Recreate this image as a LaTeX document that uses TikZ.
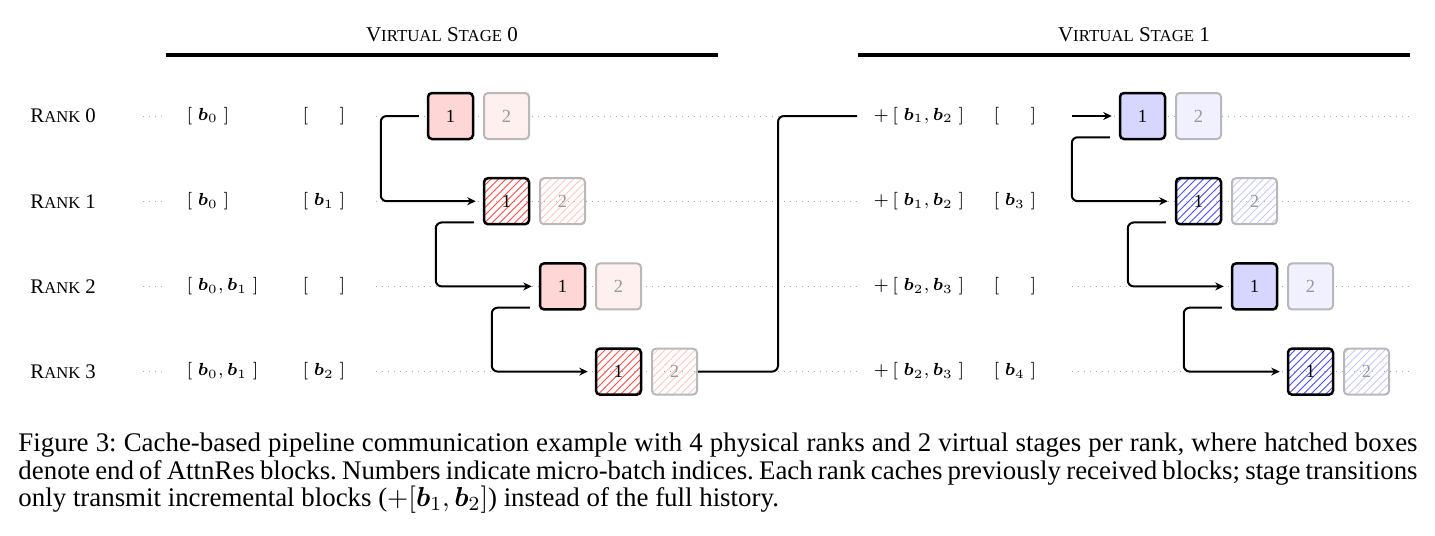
\documentclass[tikz,border=0pt]{standalone}
\usepackage{amsmath}
\usepackage{graphicx}
\usepackage{fontspec}
\setmainfont{Liberation Serif}
\usetikzlibrary{calc,arrows.meta,patterns}

\newcommand{\fakesc}[2]{#1\scalebox{0.8}{#2}}
\newcommand{\bv}[1]{\boldsymbol{b}_{#1}}

\begin{document}
\begin{tikzpicture}[x=0.4pt,y=-0.4pt,
    txt/.style={font=\fontsize{7.4}{9}\selectfont, inner sep=0pt},
    rnk/.style={font=\fontsize{8.3}{10}\selectfont, inner sep=0pt},
    hdr/.style={font=\fontsize{8.4}{10}\selectfont, inner sep=0pt},
    row/.style={dotted, black!35, line width=0.4pt},
    mb/.style={draw, rounded corners=1.6pt, minimum width=18pt, minimum height=18.4pt,
        inner sep=0pt, line width=1pt, font=\fontsize{7.4}{9}\selectfont},
    cur/.style={mb, fill=#1!16},
    curh/.style={mb, fill=white, pattern=north east lines, pattern color=#1!70},
    nxt/.style={mb, draw=black!28, text=black!40, line width=0.8pt, fill=#1!6},
    nxth/.style={mb, draw=black!28, text=black!40, line width=0.8pt, fill=white,
        pattern=north east lines, pattern color=#1!22},
    link/.style={line width=0.8pt, rounded corners=2.4pt},
    >={Stealth[length=3.4pt,width=3.2pt]}]
  \useasboundingbox (0,0) rectangle (1435,535);

  % stage headers
  \node[hdr] (hd0) at (442,35) {\fakesc{V}{IRTUAL} \fakesc{S}{TAGE} 0};
  \node[hdr] (hd1) at (1134,35) {\fakesc{V}{IRTUAL} \fakesc{S}{TAGE} 1};
  \draw[line width=1.5pt] (166,55) -- (718,55);
  \draw[line width=1.5pt] (858,55) -- (1410,55);

  % ranks, cached blocks and micro-batches
  \foreach \r/\ca/\cb/\cc/\cd in {
      0/{[\;\bv0\;]}/{[\;\phantom{\bv1}\;]}/{+\,[\;\bv1,\bv2\;]}/{[\;\phantom{\bv3}\;]},
      1/{[\;\bv0\;]}/{[\;\bv1\;]}/{+\,[\;\bv1,\bv2\;]}/{[\;\bv3\;]},
      2/{[\;\bv0,\bv1\;]}/{[\;\phantom{\bv1}\;]}/{+\,[\;\bv2,\bv3\;]}/{[\;\phantom{\bv3}\;]},
      3/{[\;\bv0,\bv1\;]}/{[\;\bv2\;]}/{+\,[\;\bv2,\bv3\;]}/{[\;\bv4\;]}} {
    \pgfmathsetmacro{\y}{116+85.2*\r}
    \draw[row] (143,\y) -- (166,\y) (376,\y) -- (858,\y) (1072,\y) -- (1410,\y);
    \node[rnk, anchor=west] (rk\r) at (30,\y) {\fakesc{R}{ANK} \r};
    \node[txt, anchor=west] (c0\r) at (186,\y) {$\ca$};
    \node[txt, anchor=west] (d0\r) at (302,\y) {$\cb$};
    \node[txt, anchor=west] (c1\r) at (873,\y) {$\cc$};
    \node[txt, anchor=west] (d1\r) at (993,\y) {$\cd$};
    \ifodd\r
      \node[curh=red] (a0\r) at ({450.5+56*\r},\y) {1};
      \node[nxth=red] (b0\r) at ({506.5+56*\r},\y) {2};
      \node[curh=blue] (a1\r) at ({1142.5+56*\r},\y) {1};
      \node[nxth=blue] (b1\r) at ({1198.5+56*\r},\y) {2};
    \else
      \node[cur=red] (a0\r) at ({450.5+56*\r},\y) {1};
      \node[nxt=red] (b0\r) at ({506.5+56*\r},\y) {2};
      \node[cur=blue] (a1\r) at ({1142.5+56*\r},\y) {1};
      \node[nxt=blue] (b1\r) at ({1198.5+56*\r},\y) {2};
    \fi
  }

  % point-to-point sends inside a virtual stage
  \draw[link,->] ($(a00.west)+(-8,0)$) -- ++(-38,0) |- ($(a01.west)+(-7,0)$);
  \draw[link,->] ($(a01.south west)+(-9,-3)$) -- ++(-38,0) |- ($(a02.west)+(-7,0)$);
  \draw[link,->] ($(a02.south west)+(-9,-3)$) -- ++(-38,0) |- ($(a03.west)+(-7,0)$);
  \draw[link,->] ($(a10.south west)+(-9,-3)$) -- ++(-38,0) |- ($(a11.west)+(-7,0)$);
  \draw[link,->] ($(a11.south west)+(-9,-3)$) -- ++(-38,0) |- ($(a12.west)+(-7,0)$);
  \draw[link,->] ($(a12.south west)+(-9,-3)$) -- ++(-38,0) |- ($(a13.west)+(-7,0)$);

  % stage transition
  \draw[link] (b03.east) -- ++(80,0) |- ($(c10.west)+(-16,0)$);
  \draw[link,->] ($(a10.west)+(-47,0)$) -- ($(a10.west)+(-7,0)$);

  % caption
  \begin{scope}[every node/.style={anchor=base west, inner sep=0pt, font=\fontsize{10.75}{12}\selectfont\frenchspacing}]
    \node (cap1) at (18,451.7) {\makebox[559.6pt][s]{Figure 3: Cache-based pipeline communication example with 4 physical ranks and 2 virtual stages per rank, where hatched boxes}};
    \node (cap2) at (18,479.2) {\makebox[559.6pt][s]{denote end of AttnRes blocks. Numbers indicate micro-batch indices. Each rank caches previously received blocks; stage transitions}};
    \node (cap3) at (18,506.7) {only transmit incremental blocks ($+[\bv1,\bv2]$) instead of the full history.};
  \end{scope}
\end{tikzpicture}
\end{document}
